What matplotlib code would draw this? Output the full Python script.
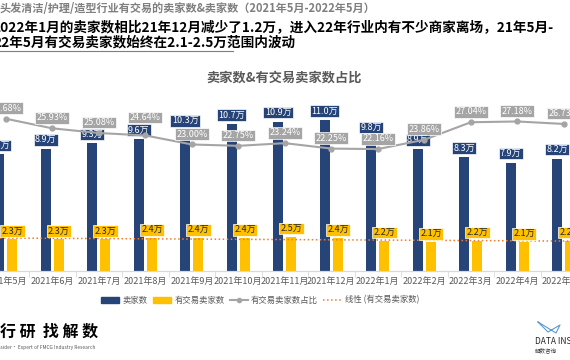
import matplotlib
matplotlib.use("Agg")
import matplotlib.pyplot as plt
import numpy as np
from matplotlib.lines import Line2D
from matplotlib.patches import Patch

plt.rcParams["font.family"] = ["Noto Sans CJK SC", "DejaVu Sans"]

# --- data ---
months = ["2021年5月", "2021年6月", "2021年7月", "2021年8月", "2021年9月",
          "2021年10月", "2021年11月", "2021年12月", "2022年1月", "2022年2月",
          "2022年3月", "2022年4月", "2022年5月"]
sellers = [8.5, 8.9, 9.3, 9.6, 10.3, 10.7, 10.9, 11.0, 9.8, 8.9, 8.3, 7.9, 8.2]
active_sellers = [2.3, 2.3, 2.3, 2.4, 2.4, 2.4, 2.5, 2.4, 2.2, 2.1, 2.2, 2.1, 2.2]
active_share = [27.68, 25.93, 25.08, 24.64, 23.00, 22.75, 23.24, 22.25,
                22.16, 23.86, 27.04, 27.18, 26.73]

NAVY = "#264478"
YELLOW = "#FFC000"
GRAY = "#A5A5A5"
ORANGE = "#ED7D31"

fig = plt.figure(figsize=(5.7, 3.6), dpi=100)
ax = fig.add_axes([0, 89 / 360, 1, 192 / 360])
ax2 = ax.twinx()

x = np.arange(len(months))
w = 0.215
off = 0.143
xl = (-0.125, 12.133)

ax.bar(x - off, sellers, w, color=NAVY, zorder=2)
ax.bar(x + off, active_sellers, w, color=YELLOW, zorder=2)

# linear trend of active sellers
k, b = np.polyfit(x, active_sellers, 1)
xt = np.array(xl)
ax.plot(xt, k * xt + b, ls=":", color=ORANGE, lw=1.1, zorder=3)

for xi, v in zip(x, sellers):
    ax.annotate(f"{v:.1f}万", (xi - off, v), xytext=(0, 6.5), textcoords="offset points",
                ha="center", va="center", fontsize=6.5, color="white", zorder=5,
                annotation_clip=False,
                bbox=dict(boxstyle="square,pad=0.15", fc=NAVY, ec="white", lw=0.5))
for xi, v in zip(x, active_sellers):
    ax.annotate(f"{v:.1f}万", (xi + off, v), xytext=(0, 6), textcoords="offset points",
                ha="center", va="center", fontsize=6.5, color="#262626", zorder=5,
                annotation_clip=False,
                bbox=dict(boxstyle="square,pad=0.15", fc=YELLOW, ec="white", lw=0.5))

ax2.plot(x, active_share, color=GRAY, lw=1.5, marker="o", ms=3.5, zorder=4)
for i, (xi, v) in enumerate(zip(x, active_share)):
    dy = 13 if i == 3 else 7.5  # lifted to clear the bar label below
    ax2.annotate(f"{v:.2f}%", (xi, v), xytext=(0, dy), textcoords="offset points",
                 ha="center", va="center", fontsize=6.5, color="white", zorder=6,
                 annotation_clip=False,
                 bbox=dict(boxstyle="square,pad=0.15", fc=GRAY, ec="white", lw=0.5))

ax.set_xticks(x)
ax.set_xticklabels(months, fontsize=6.5, color="#595959")
ax.set_xticks(np.arange(-0.5, len(months) + 0.5, 1), minor=True)
ax.tick_params(axis="x", which="major", length=0, pad=4)
ax.tick_params(axis="x", which="minor", length=4, color="#D9D9D9")
ax.set_yticks([])
ax2.set_yticks([])
ax.set_xlim(*xl)
ax.set_ylim(0, 14)
ax2.set_ylim(0, 34.9)
for a in (ax, ax2):
    for s in ("top", "left", "right"):
        a.spines[s].set_visible(False)
    a.spines["bottom"].set_color("#D9D9D9")

# titles
fig.text(0.0, 1 - 9 / 360, "头发清洁/护理/造型行业有交易的卖家数&卖家数（2021年5月-2022年5月）",
         fontsize=8, color="#7F7F7F", fontweight="bold", va="center", ha="left")
fig.text(-8 / 570, 1 - 27 / 360,
         "2022年1月的卖家数相比21年12月减少了1.2万，进入22年行业内有不少商家离场，21年5月-",
         fontsize=9.8, color="black", fontweight="bold", va="center", ha="left")
fig.text(-7 / 570, 1 - 42 / 360, "22年5月有交易卖家数始终在2.1-2.5万范围内波动",
         fontsize=9.8, color="black", fontweight="bold", va="center", ha="left")
fig.add_artist(Line2D([0, 233 / 570], [1 - 51 / 360, 1 - 51 / 360], color="#7F7F7F", lw=0.8))
fig.text(284 / 570, 1 - 78 / 360, "卖家数&有交易卖家数占比", fontsize=9.5,
         color="#595959", fontweight="bold", ha="center", va="center")

# legend
handles = [Patch(color=NAVY), Patch(color=YELLOW),
           Line2D([], [], color=GRAY, marker="o", ms=3, lw=1.5),
           Line2D([], [], color=ORANGE, ls=":", lw=1.1)]
labels = ["卖家数", "有交易卖家数", "有交易卖家数占比", "线性 (有交易卖家数)"]
fig.legend(handles, labels, loc="center", bbox_to_anchor=(260 / 570, 1 - 300 / 360),
           ncol=4, frameon=False, fontsize=6, labelcolor="#595959",
           handlelength=2.2, handleheight=0.7, handletextpad=0.4, columnspacing=0.6)

# footer logos
fig.text(0.0, 1 - 332 / 360, "行 研  找 解 数", fontsize=11.5, color="black",
         fontweight="bold", va="center", ha="left")
fig.text(-4 / 570, 1 - 348 / 360, "Insider· Expert of FMCG Industry Research", fontsize=3.5,
         color="#595959", va="center", ha="left")
fig.add_artist(Line2D([538 / 570, 548 / 570, 560 / 570, 556 / 570, 538 / 570],
                      [1 - 322 / 360, 1 - 332 / 360, 1 - 325 / 360, 1 - 333 / 360, 1 - 322 / 360],
                      color="#5B9BD5", lw=0.8))
fig.text(535 / 570, 1 - 341 / 360, "DATA INSIGHT", fontsize=6, color="#262626",
         va="center", ha="left")
fig.text(535 / 570, 1 - 350 / 360, "解数咨询", fontsize=4, color="#404040",
         va="center", ha="left")

fig.savefig("out.png", dpi=100)
